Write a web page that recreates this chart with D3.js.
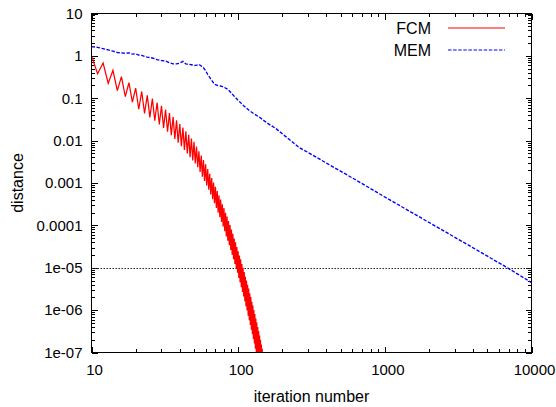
<!DOCTYPE html>
<html>
<head>
<meta charset="utf-8">
<script src="https://cdn.jsdelivr.net/npm/d3@7"></script>
<style>
  body { margin: 0; background: #fff; }
  svg { display: block; }
  text { font-family: "Liberation Sans", Arial, Helvetica, sans-serif; fill: #000; }
</style>
</head>
<body>
<svg id="chart" width="556" height="407"></svg>
<script>
// ---------------- data ----------------
const xTickValues = [10, 100, 1000, 10000];
const xTickLabels = ["10", "100", "1000", "10000"];
const yTickValues = [1e-7, 1e-6, 1e-5, 1e-4, 1e-3, 1e-2, 1e-1, 1, 10];
const yTickLabels = ["1e-07", "1e-06", "1e-05", "0.0001", "0.001", "0.01", "0.1", "1", "10"];
const seriesNames = ["FCM", "MEM"];
const thresholdDistance = 1e-5;

// FCM: log10(distance) at every iteration, starting at iteration 10
const fcmFirstIteration = 10;
const fcmLog10Distance = [
  0.00, -0.42, -0.17, -0.65, -0.34, -0.82, -0.49, -0.96, -0.63, -1.09,
  -0.76, -1.26, -0.84, -1.36, -0.93, -1.45, -1.01, -1.53, -1.10, -1.62,
  -1.18, -1.70, -1.27, -1.79, -1.35, -1.87, -1.44, -1.96, -1.52, -2.05,
  -1.61, -2.13, -1.69, -2.22, -1.78, -2.30, -1.86, -2.39, -1.95, -2.47,
  -2.03, -2.54, -2.14, -2.63, -2.25, -2.74, -2.35, -2.85, -2.46, -2.95,
  -2.56, -3.06, -2.67, -3.16, -2.78, -3.27, -2.88, -3.38, -2.99, -3.48,
  -3.09, -3.59, -3.19, -3.70, -3.29, -3.81, -3.39, -3.92, -3.50, -4.03,
  -3.59, -4.14, -3.70, -4.26, -3.79, -4.36, -3.90, -4.47, -3.99, -4.58,
  -4.10, -4.69, -4.20, -4.80, -4.31, -4.91, -4.40, -5.02, -4.51, -5.12,
  -4.61, -5.24, -4.71, -5.34, -4.80, -5.46, -4.91, -5.57, -5.00, -5.68,
  -5.10, -5.79, -5.21, -5.91, -5.30, -6.01, -5.40, -6.13, -5.49, -6.24,
  -5.60, -6.35, -5.69, -6.46, -5.80, -6.57, -5.89, -6.68, -6.00, -6.79,
  -6.09, -6.91, -6.20, -7.01, -6.29, -7.13, -6.40, -7.23, -6.49, -7.35,
  -6.60, -7.45, -6.70, -7.56, -6.81, -7.66, -6.91, -7.76, -7.02, -7.87
];

// MEM: iteration numbers and log10(distance)
const memIterations = [
  10, 11, 12, 13, 14, 15, 16, 17, 18, 19, 20, 21, 22, 24, 26, 28, 30, 32, 34, 36,
  38, 40, 42, 44, 46, 48, 50, 52, 54, 56, 58, 60, 62, 64, 66, 68, 70, 73, 76, 80,
  85, 90, 95, 100, 110, 120, 130, 140, 160, 180, 200, 230, 260, 300, 400, 600,
  1000, 2000, 4000, 7000, 10000
];
const memLog10Distance = [
  0.22, 0.20, 0.17, 0.14, 0.11, 0.08, 0.07, 0.06, 0.07, 0.04, 0.05, 0.02, 0.01, -0.03, -0.05, -0.09, -0.11, -0.12, -0.16, -0.19,
  -0.19, -0.17, -0.13, -0.19, -0.20, -0.21, -0.23, -0.22, -0.20, -0.24, -0.28, -0.35, -0.44, -0.51, -0.58, -0.64, -0.68, -0.70, -0.71, -0.74,
  -0.79, -0.88, -0.97, -1.05, -1.19, -1.30, -1.38, -1.45, -1.60, -1.71, -1.84, -2.01, -2.16, -2.28, -2.53, -2.88,
  -3.33, -3.93, -4.53, -5.02, -5.35
];

// ---------------- layout ----------------
const L = 91.5, R = 531.5, T = 13.5, B = 352.5;
const svg = d3.select("#chart");

const x = d3.scaleLog().domain([10, 10000]).range([L, R]);
const y = d3.scaleLog().domain([1e-7, 10]).range([B, T]);

const minorX = [];
[10, 100, 1000].forEach(d => { for (let k = 2; k <= 9; k++) minorX.push(d * k); });
const minorY = [];
[1e-7, 1e-6, 1e-5, 1e-4, 1e-3, 1e-2, 1e-1, 1].forEach(d => { for (let k = 2; k <= 9; k++) minorY.push(d * k); });

const fmtX = d => xTickLabels[xTickValues.indexOf(d)];
const fmtY = d => yTickLabels[yTickValues.findIndex(v => Math.abs(Math.log10(v) - Math.log10(d)) < 1e-6)];

function styleAxis(g) {
  g.select(".domain").remove();
  g.selectAll(".tick line").attr("stroke", "#000").attr("stroke-width", 1).attr("shape-rendering", "crispEdges");
}

// bottom axis
svg.append("g").attr("transform", `translate(0,${B})`)
  .call(d3.axisBottom(x).tickValues(xTickValues).tickFormat(fmtX).tickSize(-6).tickPadding(12))
  .call(styleAxis)
  .selectAll("text").attr("font-size", 15).attr("dx", 2.5);
svg.append("g").attr("transform", `translate(0,${B})`)
  .call(d3.axisBottom(x).tickValues(minorX).tickFormat("").tickSize(-3.5))
  .call(styleAxis);
// top axis (mirror)
svg.append("g").attr("transform", `translate(0,${T})`)
  .call(d3.axisTop(x).tickValues(xTickValues).tickFormat("").tickSize(-6))
  .call(styleAxis);
svg.append("g").attr("transform", `translate(0,${T})`)
  .call(d3.axisTop(x).tickValues(minorX).tickFormat("").tickSize(-3.5))
  .call(styleAxis);
// left axis
svg.append("g").attr("transform", `translate(${L},0)`)
  .call(d3.axisLeft(y).tickValues(yTickValues).tickFormat(fmtY).tickSize(-6).tickPadding(9))
  .call(styleAxis)
  .selectAll("text").attr("font-size", 15);
svg.append("g").attr("transform", `translate(${L},0)`)
  .call(d3.axisLeft(y).tickValues(minorY).tickFormat("").tickSize(-3.5))
  .call(styleAxis);
// right axis (mirror)
svg.append("g").attr("transform", `translate(${R},0)`)
  .call(d3.axisRight(y).tickValues(yTickValues).tickFormat("").tickSize(-6))
  .call(styleAxis);
svg.append("g").attr("transform", `translate(${R},0)`)
  .call(d3.axisRight(y).tickValues(minorY).tickFormat("").tickSize(-3.5))
  .call(styleAxis);

// clip
svg.append("clipPath").attr("id", "plotclip")
  .append("rect").attr("x", L).attr("y", T).attr("width", R - L).attr("height", B - T);

const plot = svg.append("g").attr("clip-path", "url(#plotclip)");

// threshold dotted line
plot.append("line")
  .attr("x1", L).attr("x2", R)
  .attr("y1", Math.round(y(thresholdDistance)) + 0.5).attr("y2", Math.round(y(thresholdDistance)) + 0.5)
  .attr("stroke", "#222").attr("stroke-width", 1).attr("stroke-dasharray", "1.5,1.5");

const line = d3.line().x(d => x(d.n)).y(d => y(d.d));

const fcmData = fcmLog10Distance.map((v, i) => ({ n: fcmFirstIteration + i, d: Math.pow(10, v) }));
const memData = memIterations.map((n, i) => ({ n: n, d: Math.pow(10, memLog10Distance[i]) }));

plot.append("path").datum(memData)
  .attr("d", line).attr("fill", "none")
  .attr("stroke", "#0000ff").attr("stroke-width", 1.35).attr("stroke-dasharray", "3.5,1.6");

plot.append("path").datum(fcmData)
  .attr("d", line).attr("fill", "none")
  .attr("stroke", "#ff0000").attr("stroke-width", 1.25).attr("stroke-linejoin", "miter");

// frame
svg.append("rect").attr("x", L).attr("y", T).attr("width", R - L).attr("height", B - T)
  .attr("fill", "none").attr("stroke", "#000").attr("stroke-width", 1).attr("shape-rendering", "crispEdges");

// axis labels
svg.append("text").attr("x", (L + R) / 2).attr("y", 402).attr("text-anchor", "middle")
  .attr("font-size", 16).text("iteration number");
svg.append("text").attr("transform", `translate(23,${(T + B) / 2}) rotate(-90)`)
  .attr("text-anchor", "middle").attr("font-size", 16).text("distance");

// legend
const legendColors = ["#ff0000", "#0000ff"];
const legendDash = [null, "3.5,1.6"];
const legendY = [28, 50];
seriesNames.forEach((name, i) => {
  svg.append("text").attr("x", 431).attr("y", legendY[i] + 5.8).attr("text-anchor", "end")
    .attr("font-size", 16).text(name);
  svg.append("line").attr("x1", 448).attr("x2", 505)
    .attr("y1", legendY[i]).attr("y2", legendY[i])
    .attr("stroke", legendColors[i]).attr("stroke-width", 1.2)
    .attr("stroke-dasharray", legendDash[i]);
});
</script>
</body>
</html>
